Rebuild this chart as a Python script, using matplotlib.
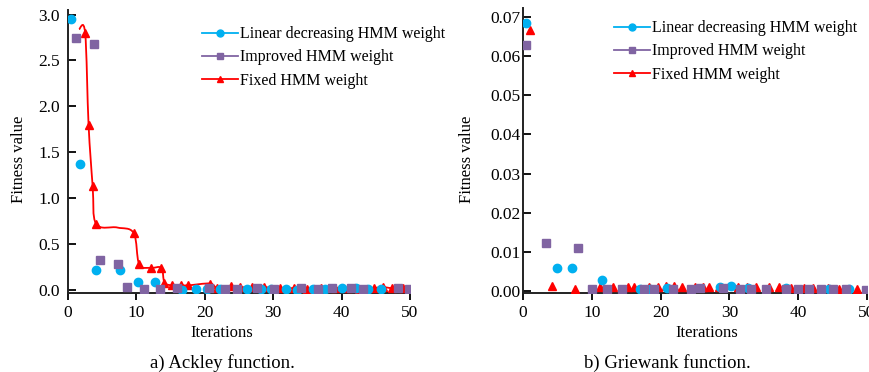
import numpy as np
import matplotlib.pyplot as plt
from matplotlib.path import Path
from matplotlib.patches import PathPatch
from matplotlib.lines import Line2D

plt.rcParams['font.family'] = ['Liberation Serif', 'DejaVu Serif']

# ---- data: Ackley function (left) ----
ack_lin_x = [0.5, 1.8, 4.1, 7.6, 10.2, 12.7, 16.7, 18.7, 20.3, 22.2, 26.2, 28.2, 29.7,
             31.9, 33.5, 35.8, 37.5, 40.0, 42.1, 43.9, 45.8]
ack_lin_y = [2.95, 1.37, 0.22, 0.22, 0.09, 0.09, 0.0, 0.01, 0.01, 0.01, 0.01, 0.01, 0.01,
             0.01, 0.0, 0.01, 0.01, 0.02, 0.02, 0.01, 0.01]
ack_imp_x = [1.2, 3.8, 4.7, 7.3, 8.6, 11.1, 13.5, 15.9, 20.6, 22.9, 24.7, 27.7, 30.1,
             34.1, 36.5, 38.6, 41.4, 43.1, 48.3, 49.8]
ack_imp_y = [2.74, 2.68, 0.33, 0.28, 0.03, 0.01, 0.01, 0.02, 0.02, 0.01, 0.01, 0.02, 0.01,
             0.02, 0.01, 0.02, 0.02, 0.01, 0.02, 0.01]
ack_fix_x = [1.6, 2.5, 3.0, 3.6, 4.1, 7.2, 9.6, 10.4, 12.1, 13.65, 14.1, 15.25, 16.5, 17.6,
             20.75, 21.85, 23.8, 25.2, 26.9, 28.6, 31.0, 33.0, 35.0, 37.0, 39.0, 41.0,
             42.5, 44.7, 46.1, 47.3, 49.0]
ack_fix_y = [2.84, 2.80, 1.80, 1.13, 0.72, 0.68, 0.62, 0.28, 0.24, 0.24, 0.08, 0.05, 0.05, 0.05,
             0.07, 0.02, 0.04, 0.03, 0.03, 0.03, 0.02, 0.02, 0.01, 0.02, 0.02, 0.02,
             0.0, 0.02, 0.03, 0.02, 0.02]
ack_fix_nomark = [0, 5]

# ---- data: Griewank function (right) ----
gri_lin_x = [0.4, 4.9, 7.2, 11.5, 17.0, 18.5, 20.9, 28.6, 30.3, 32.7, 38.3, 44.5, 47.4]
gri_lin_y = [0.0685, 0.0059, 0.0059, 0.0028, 0.0006, 0.0006, 0.0008, 0.0010, 0.0012, 0.0008,
             0.0007, 0.0006, 0.0006]
gri_imp_x = [0.4, 3.4, 8.0, 10.0, 12.2, 14.4, 17.6, 19.0, 21.8, 24.5, 25.7, 29.1, 31.5, 33.2,
             35.3, 38.3, 40.0, 41.6, 43.3, 45.0, 46.9, 49.9]
gri_imp_y = [0.0628, 0.0122, 0.0111, 0.0005, 0.0004, 0.0004, 0.0005, 0.0005, 0.0006, 0.0006,
             0.0007, 0.0008, 0.0006, 0.0005, 0.0004, 0.0004, 0.0005, 0.0004, 0.0004, 0.0004,
             0.0004, 0.0003]
gri_fix_x = [1.0, 4.2, 7.6, 11.2, 13.1, 15.3, 16.2, 18.3, 19.7, 20.8, 21.9, 23.1, 25.0, 26.1,
             27.1, 28.5, 31.3, 32.6, 33.9, 35.7, 37.2, 39.0, 40.9, 42.1, 44.3, 45.9, 48.6]
gri_fix_y = [0.0667, 0.0014, 0.0006, 0.0011, 0.0011, 0.0011, 0.0011, 0.0011, 0.0011, 0.0012,
             0.0012, 0.0010, 0.0010, 0.0010, 0.0010, 0.0009, 0.0010, 0.0009, 0.0010, 0.0010,
             0.0009, 0.0008, 0.0008, 0.0007, 0.0007, 0.0006, 0.0004]

labels = ["Linear decreasing HMM weight", "Improved HMM weight", "Fixed HMM weight"]
c_lin = '#00B0F0'
c_imp = '#8064A2'
c_fix = '#FF0000'


def smooth_path(xs, ys):
    # Bezier path through the points (same idea as a spreadsheet "smoothed line")
    p = np.column_stack([xs, ys]).astype(float)
    n = len(p)
    verts = [p[0]]
    codes = [Path.MOVETO]
    for i in range(n - 1):
        p0 = p[i - 1] if i > 0 else p[i]
        p3 = p[i + 2] if i + 2 < n else p[i + 1]
        c1 = p[i] + (p[i + 1] - p0) / 6.0
        c2 = p[i + 1] - (p3 - p[i]) / 6.0
        verts += [c1, c2, p[i + 1]]
        codes += [Path.CURVE4] * 3
    return Path(verts, codes)


def style_axes(ax, ypad, xlab_x, ylab_x):
    for s in ['top', 'right']:
        ax.spines[s].set_visible(False)
    for s in ['left', 'bottom']:
        ax.spines[s].set_linewidth(1.4)
        ax.spines[s].set_color('#222222')
    ax.tick_params(axis='y', direction='in', length=6, width=1.3, labelsize=12.5, pad=ypad)
    ax.tick_params(axis='x', direction='out', length=5, width=1.3, labelsize=12.5, pad=4)
    ax.set_xlim(0, 50)
    ax.set_xticks([0, 10, 20, 30, 40, 50])
    ax.set_xlabel("Iterations", fontsize=12)
    ax.set_ylabel("Fitness value", fontsize=12)
    ax.xaxis.set_label_coords(xlab_x, -0.115)
    ax.yaxis.set_label_coords(ylab_x, 0.47)


def add_legend(ax, loc):
    handles = [Line2D([], [], color=c_lin, marker='o', ms=5, lw=1.3),
               Line2D([], [], color=c_imp, marker='s', ms=5, lw=1.3),
               Line2D([], [], color=c_fix, marker='^', ms=5, lw=1.3)]
    ax.legend(handles, labels, loc='upper left', bbox_to_anchor=loc, frameon=False,
              fontsize=11.5, handlelength=2.3, handletextpad=0.1, labelspacing=0.45,
              borderaxespad=0)


fig = plt.figure(figsize=(8.69, 3.72), dpi=100)

ax1 = fig.add_axes([0.0783, 0.2132, 0.3935, 0.760])
ax1.add_patch(PathPatch(smooth_path(ack_fix_x, ack_fix_y), fill=False, edgecolor=c_fix,
                        lw=1.3, zorder=2))
fix_mark = [i for i in range(len(ack_fix_x)) if i not in ack_fix_nomark]
ax1.plot(ack_fix_x, ack_fix_y, linestyle='none', marker='^', ms=6, color=c_fix,
         markevery=fix_mark, zorder=3)
ax1.plot(ack_lin_x, ack_lin_y, linestyle='none', marker='o', ms=6, color=c_lin, zorder=4)
ax1.plot(ack_imp_x, ack_imp_y, linestyle='none', marker='s', ms=6, color=c_imp, zorder=4)
ax1.set_ylim(-0.03, 3.05)
ax1.set_yticks(np.arange(0, 3.01, 0.5))
ax1.set_yticklabels(["%.1f" % v for v in np.arange(0, 3.01, 0.5)])
style_axes(ax1, 6, 0.45, -0.12)
add_legend(ax1, (0.372, 0.965))

ax2 = fig.add_axes([0.6018, 0.2132, 0.3958, 0.765])
ax2.plot(gri_fix_x, gri_fix_y, linestyle='none', marker='^', ms=6, color=c_fix, zorder=3)
ax2.plot(gri_lin_x, gri_lin_y, linestyle='none', marker='o', ms=6, color=c_lin, zorder=4)
ax2.plot(gri_imp_x, gri_imp_y, linestyle='none', marker='s', ms=6, color=c_imp, zorder=4)
ax2.set_ylim(-0.00043, 0.0723)
ax2.set_yticks(np.arange(0, 0.0701, 0.01))
ax2.set_yticklabels(["%.2f" % v for v in np.arange(0, 0.0701, 0.01)])
style_axes(ax2, 1.5, 0.535, -0.14)
add_legend(ax2, (0.245, 0.98))

fig.text(0.2555, 0.012, "a) Ackley function.", ha='center', fontsize=13.5)
fig.text(0.7675, 0.012, "b) Griewank function.", ha='center', fontsize=13.5)

fig.savefig("out.png", dpi=100)
